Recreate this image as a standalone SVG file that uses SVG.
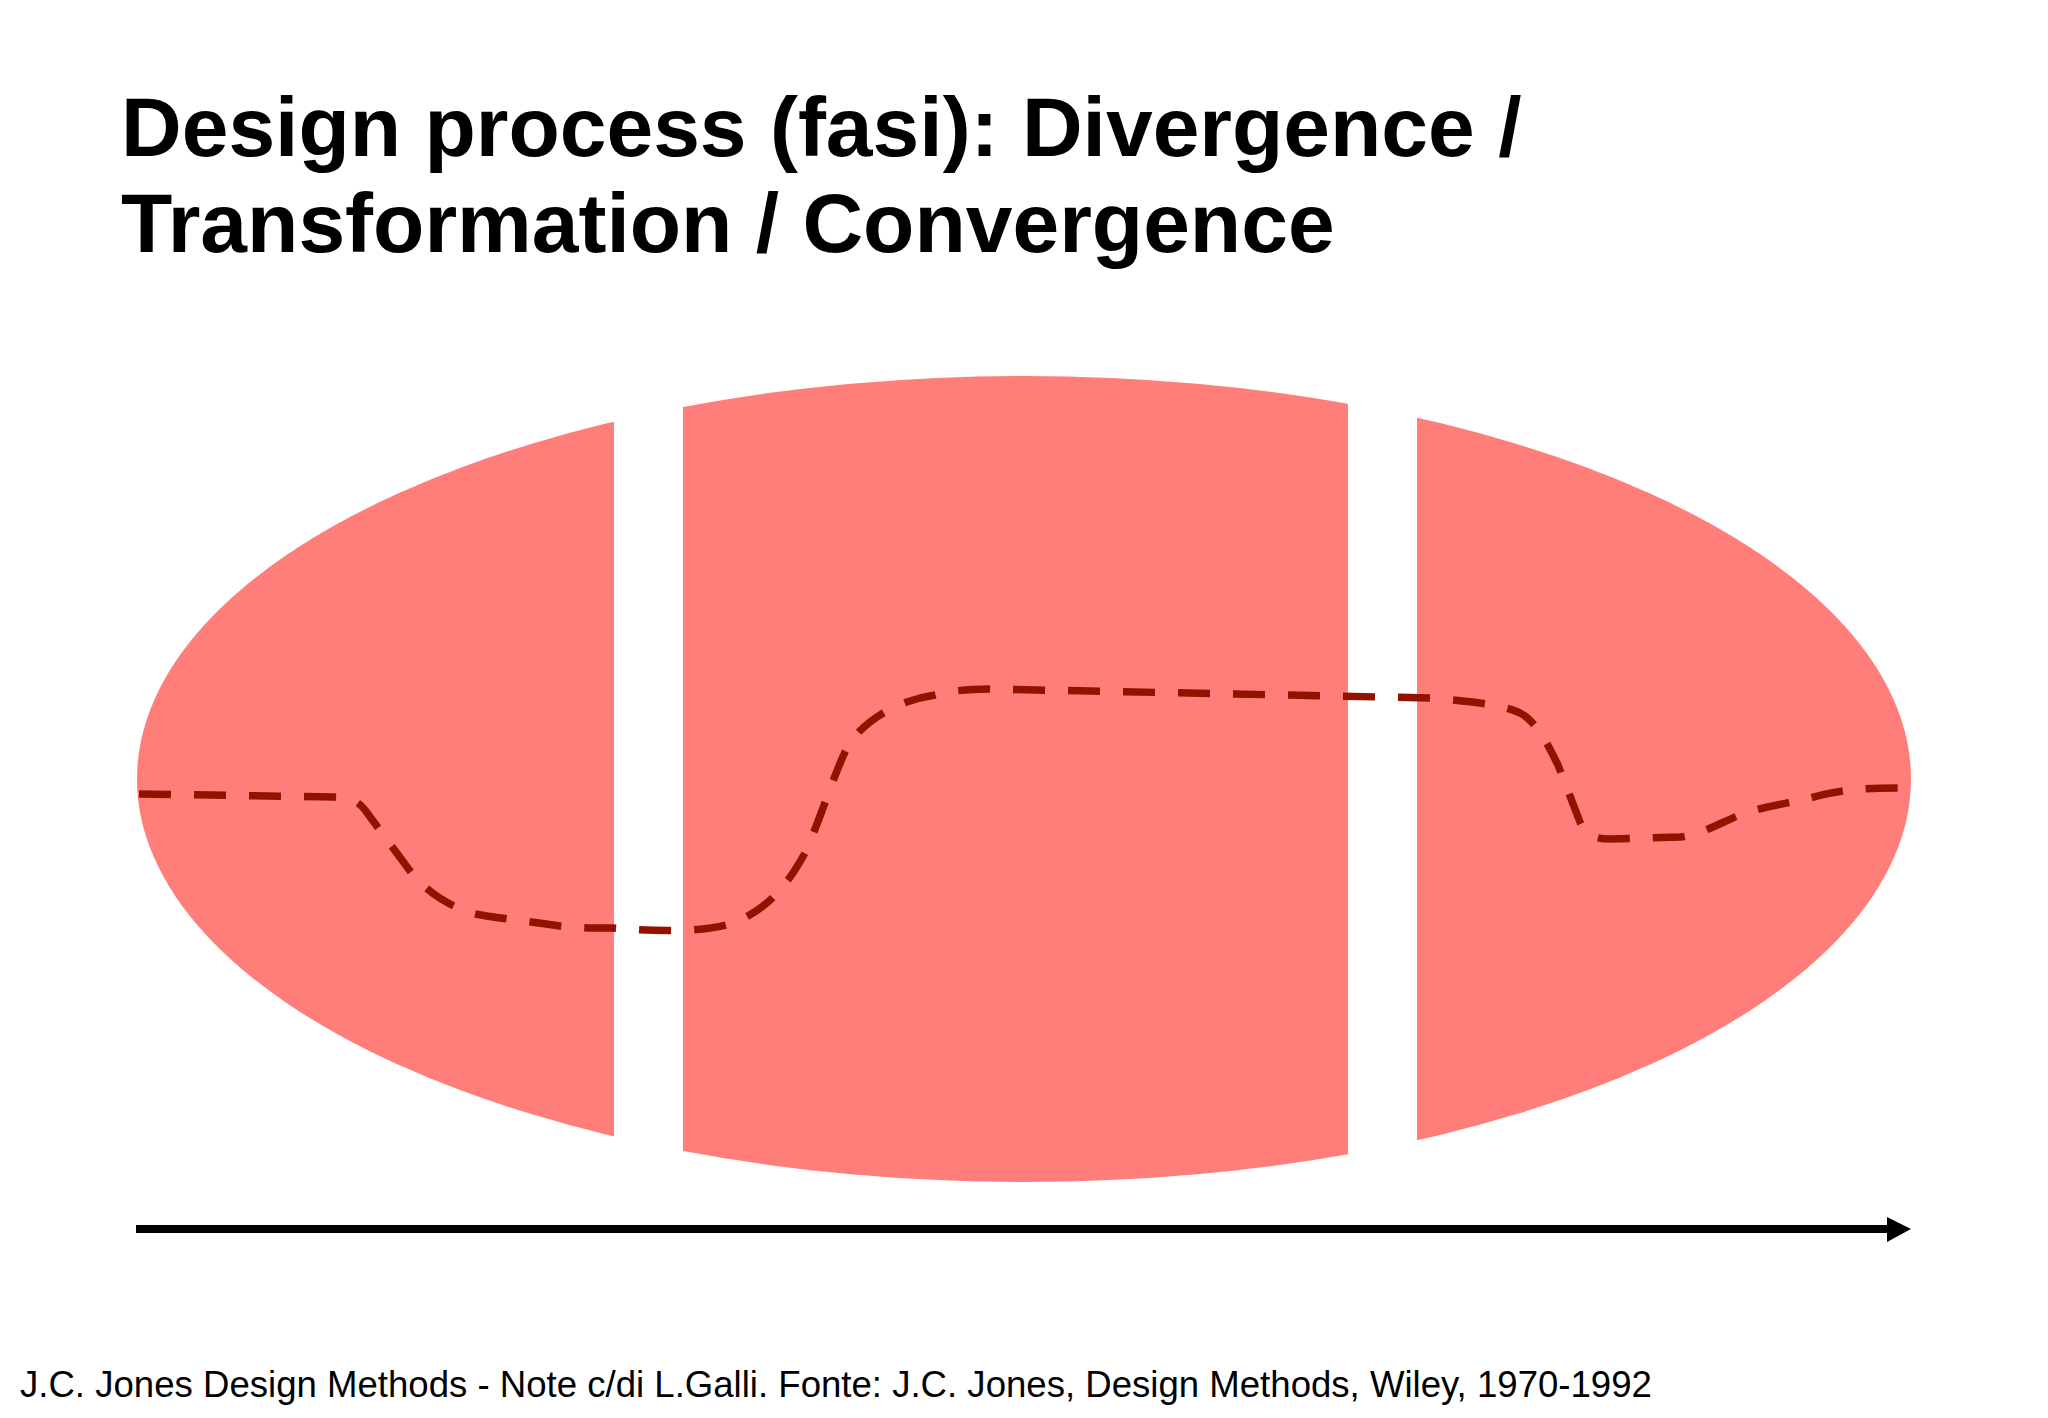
<svg xmlns="http://www.w3.org/2000/svg" width="2048" height="1418" viewBox="0 0 2048 1418">
<style>
.title{font-family:"Liberation Sans",Arial,sans-serif;font-weight:bold;font-size:84px;fill:#000}
.foot{font-family:"Liberation Sans",Arial,sans-serif;font-size:36.6px;fill:#000}
.phase{fill:#FF7E79}
.path{fill:none;stroke:#941100;stroke-width:7.5;stroke-dasharray:32 23}
.axis{stroke:#000;stroke-width:8}
</style>
<defs>
<clipPath id="cl"><rect x="0" y="0" width="614" height="1418"/></clipPath>
<clipPath id="cm"><rect x="683" y="0" width="665" height="1418"/></clipPath>
<clipPath id="cr"><rect x="1417" y="0" width="631" height="1418"/></clipPath>
</defs>
<rect width="2048" height="1418" fill="#fff"/>
<g id="title">
<text class="title" x="121" y="156">Design process (fasi): Divergence /</text>
<text class="title" x="121" y="252">Transformation / Convergence</text>
</g>
<g id="divergence"><ellipse class="phase" cx="1024" cy="779" rx="887" ry="403" clip-path="url(#cl)"/></g>
<g id="transformation"><ellipse class="phase" cx="1024" cy="779" rx="887" ry="403" clip-path="url(#cm)"/></g>
<g id="convergence"><ellipse class="phase" cx="1024" cy="779" rx="887" ry="403" clip-path="url(#cr)"/></g>
<g id="connectors">
<path class="path" d="M139,794 L334,797 C350,798 357,800 365,810 L410,871 C425,890 445,905 475,914 C495,918 520,920 560,926 C580,928 595,928 613,928 C650,931 700,933 730,924 C770,910 790,880 805,853 C820,820 832,780 845,752 C860,720 900,700 935,695 C955,690 970,689 990,689 L1430,698 C1480,702 1510,706 1525,716 C1540,728 1548,745 1558,765 L1580,822 C1585,835 1595,839 1610,839 L1680,837 C1700,835 1720,823 1740,815 C1765,806 1790,803 1810,798 C1840,790 1860,788 1900,788"/>
<line class="axis" x1="136" y1="1229" x2="1890" y2="1229"/>
<polygon points="1887,1217 1911,1229 1887,1242" fill="#000"/>
</g>
<g id="footer">
<text class="foot" x="20" y="1397">J.C. Jones Design Methods - Note c/di L.Galli. Fonte: J.C. Jones, Design Methods, Wiley, 1970-1992</text>
</g>
</svg>
